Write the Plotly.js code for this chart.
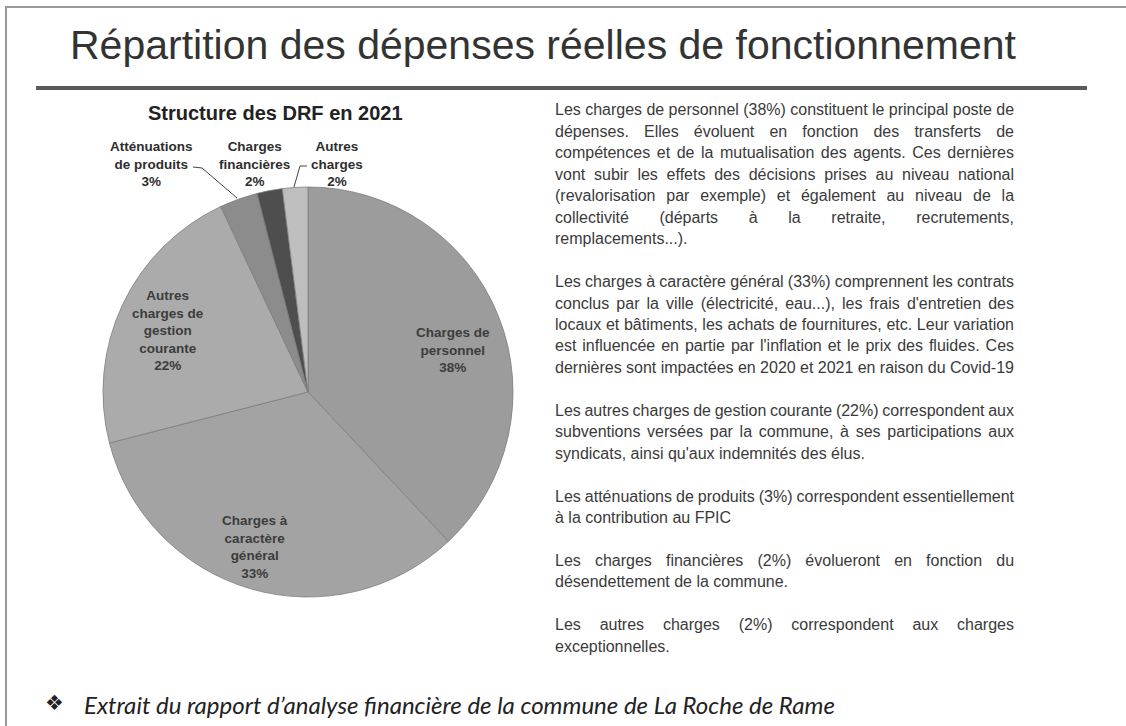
<!DOCTYPE html>
<html>
<head>
<meta charset="utf-8">
<script src="https://cdn.plot.ly/plotly-3.0.1.min.js"></script>
<style>html,body{margin:0;padding:0;background:#ffffff;}</style>
</head>
<body>
<div id="chart" style="width:1126px;height:726px;"></div>
<script>
// ---------- DATA ----------
const pageTitle = 'Répartition des dépenses réelles de fonctionnement';
const chartTitle = 'Structure des DRF en 2021';
const categories = [
  'Charges de personnel',
  'Charges à caractère général',
  'Autres charges de gestion courante',
  'Atténuations de produits',
  'Charges financières',
  'Autres charges'
];
const shares = [38, 33, 22, 3, 2, 2];
const sliceLabels = [
  'Charges de<br>personnel',
  'Charges à<br>caractère<br>général',
  'Autres<br>charges de<br>gestion<br>courante',
  'Atténuations<br>de produits',
  'Charges<br>financières',
  'Autres<br>charges'
];
const paragraphs = [
  ['Les charges de personnel (38%) constituent le principal poste de',
   'dépenses. Elles évoluent en fonction des transferts de',
   'compétences et de la mutualisation des agents. Ces dernières',
   'vont subir les effets des décisions prises au niveau national',
   '(revalorisation par exemple) et également au niveau de la',
   'collectivité (départs à la retraite, recrutements,',
   'remplacements...).'],
  ['Les charges à caractère général (33%) comprennent les contrats',
   'conclus par la ville (électricité, eau...), les frais d\'entretien des',
   'locaux et bâtiments, les achats de fournitures, etc. Leur variation',
   'est influencée en partie par l\'inflation et le prix des fluides. Ces',
   'dernières sont impactées en 2020 et 2021 en raison du Covid-19'],
  ['Les autres charges de gestion courante (22%) correspondent aux',
   'subventions versées par la commune, à ses participations aux',
   'syndicats, ainsi qu\'aux indemnités des élus.'],
  ['Les atténuations de produits (3%) correspondent essentiellement',
   'à la contribution au FPIC'],
  ['Les charges financières (2%) évolueront en fonction du',
   'désendettement de la commune.'],
  ['Les autres charges (2%) correspondent aux charges',
   'exceptionnelles.']
];
const fullWidthLastLines = [false, true, false, false, false, false];
const sourceNote = 'Extrait du rapport d’analyse financière de la commune de La Roche de Rame';

// ---------- LAYOUT HELPERS ----------
const W = 1126, H = 726;
const px = x => x / W;
const py = y => 1 - y / H;

const sliceColors = ['#9c9c9c', '#a3a3a3', '#ababab', '#8c8c8c', '#4e4e4e', '#bebebe'];
const labelPos = [[453, 350], [255, 547], [168, 330], [151, 164], [254, 164], [337, 164]];
const labelColors = ['#3c3c3c', '#3c3c3c', '#3c3c3c', '#2e2e2e', '#2e2e2e', '#2e2e2e'];

const total = shares.reduce((a, b) => a + b, 0);

const annotations = [];
// page title
annotations.push({
  text: pageTitle, xref: 'paper', yref: 'paper', x: px(68), y: py(45),
  xanchor: 'left', yanchor: 'middle', showarrow: false,
  font: {family: 'Liberation Sans, Arial, sans-serif', size: 41, color: '#333333'}
});
// chart title
annotations.push({
  text: '<b>' + chartTitle + '</b>', xref: 'paper', yref: 'paper', x: px(275), y: py(113),
  xanchor: 'center', yanchor: 'middle', showarrow: false,
  font: {family: 'Liberation Sans, Arial, sans-serif', size: 20, color: '#222222'}
});
// slice labels
categories.forEach((c, i) => {
  const pct = Math.round(shares[i] / total * 100);
  annotations.push({
    text: '<b>' + sliceLabels[i] + '<br>' + pct + '%</b>',
    xref: 'paper', yref: 'paper', x: px(labelPos[i][0]), y: py(labelPos[i][1]),
    xanchor: 'center', yanchor: 'middle', align: 'center', showarrow: false,
    font: {family: 'Liberation Sans, Arial, sans-serif', size: 13.5, color: labelColors[i]}
  });
});

// justified body text
const TEXT_L = 553, TEXT_R = 1012, FONT_SIZE = 16;
const ctx = document.createElement('canvas').getContext('2d');
ctx.font = FONT_SIZE + 'px "Liberation Sans"';
function justify(line) {
  const w = ctx.measureText(line).width;
  const n = (line.match(/ /g) || []).length;
  if (!n) return line;
  const ws = (TEXT_R - TEXT_L - w) / n;
  return '<span style="word-spacing:' + ws.toFixed(2) + 'px">' + line + '</span>';
}
let idx = 0;
paragraphs.forEach((p, pi) => {
  p.forEach((line, li) => {
    const isLast = li === p.length - 1;
    const txt = (!isLast || fullWidthLastLines[pi]) ? justify(line) : line;
    annotations.push({
      text: txt, xref: 'paper', yref: 'paper', x: px(TEXT_L), y: py(110 + idx * 21.45),
      xanchor: 'left', yanchor: 'middle', align: 'left', showarrow: false,
      font: {family: 'Liberation Sans, Arial, sans-serif', size: FONT_SIZE, color: '#3a3a3a'}
    });
    idx++;
  });
  idx++;
});

// source note
annotations.push({
  text: '❖', xref: 'paper', yref: 'paper', x: px(54), y: py(703),
  xanchor: 'center', yanchor: 'middle', showarrow: false,
  font: {family: 'DejaVu Sans, sans-serif', size: 21, color: '#222222'}
});
annotations.push({
  text: '<i>' + sourceNote + '</i>', xref: 'paper', yref: 'paper', x: px(82), y: py(704),
  xanchor: 'left', yanchor: 'middle', showarrow: false,
  font: {family: 'Lato, sans-serif', size: 24, color: '#222222'}
});

const P = (x, y) => px(x).toFixed(5) + ',' + py(y).toFixed(5);
const shapes = [
  {type: 'line', xref: 'paper', yref: 'paper', x0: px(5), x1: 1, y0: py(7), y1: py(7),
   line: {color: '#9a9a9a', width: 2}},
  {type: 'line', xref: 'paper', yref: 'paper', x0: px(6), x1: px(6), y0: py(7), y1: 0,
   line: {color: '#9a9a9a', width: 2}},
  {type: 'line', xref: 'paper', yref: 'paper', x0: px(36), x1: px(1087), y0: py(88), y1: py(88),
   line: {color: '#5a5a5a', width: 4}},
  {type: 'path', xref: 'paper', yref: 'paper',
   path: 'M' + P(193, 167) + 'L' + P(202, 168) + 'L' + P(237, 198),
   line: {color: '#444444', width: 1}},
  {type: 'path', xref: 'paper', yref: 'paper',
   path: 'M' + P(307, 166) + 'L' + P(300, 166) + 'L' + P(294, 187),
   line: {color: '#444444', width: 1}}
];

const trace = {
  type: 'pie',
  labels: categories,
  values: shares,
  sort: false,
  direction: 'clockwise',
  rotation: 0,
  textinfo: 'none',
  hoverinfo: 'label+percent',
  showlegend: false,
  marker: {colors: sliceColors, line: {color: '#7e7e7e', width: 0.8}},
  domain: {x: [px(103), px(513)], y: [py(597), py(187)]}
};

const layout = {
  width: W, height: H,
  margin: {l: 0, r: 0, t: 0, b: 0},
  paper_bgcolor: '#ffffff',
  plot_bgcolor: '#ffffff',
  showlegend: false,
  annotations: annotations,
  shapes: shapes
};

Plotly.newPlot('chart', [trace], layout, {displayModeBar: false, staticPlot: true});
</script>
</body>
</html>
